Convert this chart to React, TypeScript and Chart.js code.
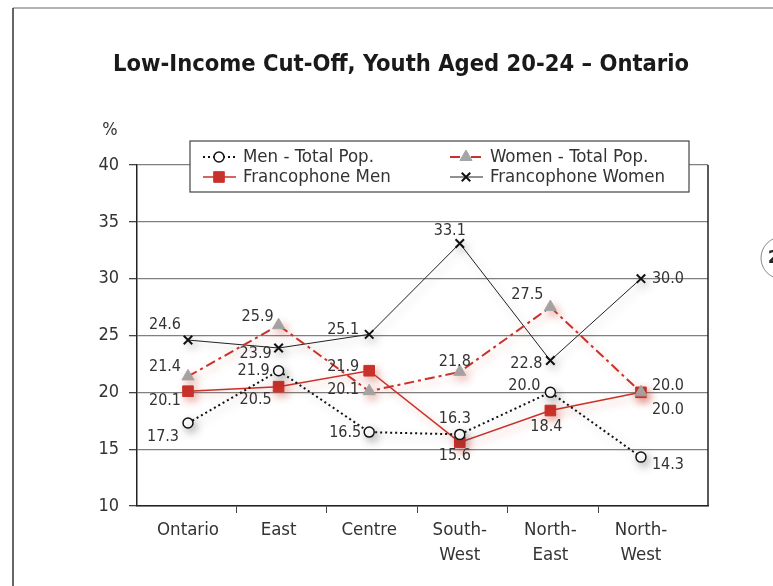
import React, { useEffect, useRef } from "react";
import { Chart, registerables } from "chart.js";
import { drawPoint } from "chart.js/helpers";

Chart.register(...registerables);

// Regions along the category axis (multi-line labels as arrays)
const categories: string[][] = [
  ["Ontario"],
  ["East"],
  ["Centre"],
  ["South-", "West"],
  ["North-", "East"],
  ["North-", "West"],
];

// Percent of youth (20-24) below the low-income cut-off
const menTotal = [17.3, 21.9, 16.5, 16.3, 20.0, 14.3];
const womenTotal = [21.4, 25.9, 20.1, 21.8, 27.5, 20.0];
const francoMen = [20.1, 20.5, 21.9, 15.6, 18.4, 20.0];
const francoWomen = [24.6, 23.9, 25.1, 33.1, 22.8, 30.0];

const seriesNames = [
  "Men - Total Pop.",
  "Women - Total Pop.",
  "Francophone Men",
  "Francophone Women",
];

const yMin = 10;
const yMax = 40;
const yStep = 5;

// Where each value label sits relative to its marker (dx, dy in px)
const labelOffsets: [number, number][][] = [
  [[-25, 14], [-25, 0], [-24, 1], [-5, -16], [-26, -6], [27, 8]],
  [[-23, -10], [-21, -8], [-26, -1], [-5, -10], [-23, -12], [27, 18]],
  [[-23, 10], [-23, 13], [-26, -4], [-5, 13], [-4, 16], [27, -6]],
  [[-23, -15], [-23, 6], [-26, -5], [-10, -13], [-24, 3], [27, 0]],
];

const FONT = "'DejaVu Sans Condensed', 'Liberation Sans Narrow', 'DejaVu Sans', sans-serif";
const RED = "#c9322b";

const toPoints = (vals: number[]) => vals.map((y, x) => ({ x, y }));

const shadowColors = [
  "rgba(60,60,60,0.35)",
  "rgba(200,60,40,0.35)",
  "rgba(200,60,40,0.40)",
  "rgba(60,60,60,0.35)",
];

const shadowPlugin = {
  id: "softShadow",
  beforeDatasetDraw(chart: any, args: any) {
    const ctx = chart.ctx;
    ctx.save();
    ctx.shadowColor = shadowColors[args.index] || "rgba(0,0,0,0.3)";
    ctx.shadowBlur = 9;
    ctx.shadowOffsetX = 3;
    ctx.shadowOffsetY = 4;
  },
  afterDatasetDraw(chart: any) {
    chart.ctx.restore();
  },
};

const decorPlugin = {
  id: "decor",
  beforeDraw(chart: any) {
    const ctx = chart.ctx;
    ctx.save();
    ctx.fillStyle = "#fff";
    ctx.fillRect(0, 0, chart.width, chart.height);
    // page frame
    ctx.strokeStyle = "#9a9a9a";
    ctx.lineWidth = 1.5;
    ctx.beginPath();
    ctx.moveTo(13, 8);
    ctx.lineTo(chart.width, 8);
    ctx.stroke();
    ctx.strokeStyle = "#333";
    ctx.beginPath();
    ctx.moveTo(13, 8);
    ctx.lineTo(13, chart.height);
    ctx.stroke();
    // page marker at the edge
    ctx.strokeStyle = "#888";
    ctx.lineWidth = 1;
    ctx.beginPath();
    ctx.arc(782, 258, 21, 0, Math.PI * 2);
    ctx.stroke();
    ctx.fillStyle = "#222";
    ctx.font = `bold 17px ${FONT}`;
    ctx.textAlign = "left";
    ctx.textBaseline = "middle";
    ctx.fillText("2", 768, 259);
    ctx.restore();
  },
  afterDraw(chart: any) {
    const ctx = chart.ctx;
    const area = chart.chartArea;
    ctx.save();
    // title
    ctx.fillStyle = "#1a1a1a";
    ctx.font = `bold 23.5px ${FONT}`;
    ctx.textAlign = "center";
    ctx.textBaseline = "middle";
    ctx.fillText("Low-Income Cut-Off, Youth Aged 20-24 \u2013 Ontario", 401, 65);
    // unit label
    ctx.font = `18px ${FONT}`;
    ctx.fillStyle = "#333";
    ctx.fillText("%", 110, 130);
    // right edge of plot
    ctx.strokeStyle = "#222";
    ctx.lineWidth = 1.5;
    ctx.beginPath();
    ctx.moveTo(area.right, area.top);
    ctx.lineTo(area.right, area.bottom);
    ctx.stroke();
    ctx.restore();
  },
};

const valueLabelPlugin = {
  id: "valueLabels",
  afterDatasetsDraw(chart: any) {
    const ctx = chart.ctx;
    ctx.save();
    ctx.font = `16px ${FONT}`;
    ctx.fillStyle = "#333";
    ctx.textAlign = "center";
    ctx.textBaseline = "middle";
    chart.data.datasets.forEach((ds: any, di: number) => {
      const meta = chart.getDatasetMeta(di);
      meta.data.forEach((pt: any, i: number) => {
        const v = ds.data[i].y;
        const [dx, dy] = labelOffsets[di][i];
        ctx.fillText(v.toFixed(1), pt.x + dx, pt.y + dy);
      });
    });
    ctx.restore();
  },
};

const legendPlugin = {
  id: "boxLegend",
  afterDraw(chart: any) {
    const ctx = chart.ctx;
    const box = { x: 190, y: 141, w: 499, h: 51 };
    ctx.save();
    ctx.fillStyle = "#fff";
    ctx.fillRect(box.x, box.y, box.w, box.h);
    ctx.strokeStyle = "#444";
    ctx.lineWidth = 1.2;
    ctx.strokeRect(box.x, box.y, box.w, box.h);
    const slots = [
      { x: 203, y: 157 },
      { x: 450, y: 157 },
      { x: 203, y: 177 },
      { x: 450, y: 177 },
    ];
    chart.data.datasets.forEach((ds: any, di: number) => {
      const s = slots[di];
      ctx.save();
      ctx.strokeStyle = ds.borderColor;
      ctx.lineWidth = ds.borderWidth;
      ctx.setLineDash(ds.borderDash || []);
      ctx.beginPath();
      ctx.moveTo(s.x, s.y);
      ctx.lineTo(s.x + 33, s.y);
      ctx.stroke();
      ctx.setLineDash([]);
      ctx.fillStyle = ds.pointBackgroundColor;
      ctx.strokeStyle = ds.pointBorderColor;
      ctx.lineWidth = ds.pointBorderWidth;
      drawPoint(
        ctx,
        { pointStyle: ds.pointStyle, radius: ds.pointRadius, rotation: 0, borderWidth: ds.pointBorderWidth },
        s.x + 16,
        s.y
      );
      ctx.restore();
      ctx.fillStyle = "#333";
      ctx.font = `18.5px ${FONT}`;
      ctx.textAlign = "left";
      ctx.textBaseline = "middle";
      ctx.fillText(ds.label, s.x + 40, s.y);
    });
    ctx.restore();
  },
};

export default function App() {
  const canvasRef = useRef<HTMLCanvasElement | null>(null);

  useEffect(() => {
    const canvas = canvasRef.current;
    if (!canvas) return;
    const chart = new Chart(canvas, {
      type: "line",
      data: {
        datasets: [
          {
            label: seriesNames[0],
            data: toPoints(menTotal),
            borderColor: "#111",
            borderWidth: 2,
            borderDash: [2, 3],
            pointStyle: "circle",
            pointRadius: 5,
            pointBackgroundColor: "#fff",
            pointBorderColor: "#111",
            pointBorderWidth: 1.5,
            tension: 0,
          },
          {
            label: seriesNames[1],
            data: toPoints(womenTotal),
            borderColor: RED,
            borderWidth: 2,
            borderDash: [10, 4, 3, 4],
            pointStyle: "triangle",
            pointRadius: 7,
            pointBackgroundColor: "#a5a5a5",
            pointBorderColor: "#a5a5a5",
            pointBorderWidth: 1,
            tension: 0,
          },
          {
            label: seriesNames[2],
            data: toPoints(francoMen),
            borderColor: RED,
            borderWidth: 1.5,
            pointStyle: "rect",
            pointRadius: 7.5,
            pointBackgroundColor: RED,
            pointBorderColor: RED,
            pointBorderWidth: 1,
            tension: 0,
          },
          {
            label: seriesNames[3],
            data: toPoints(francoWomen),
            borderColor: "#222",
            borderWidth: 1,
            pointStyle: "crossRot",
            pointRadius: 6,
            pointBackgroundColor: "#111",
            pointBorderColor: "#111",
            pointBorderWidth: 2,
            tension: 0,
          },
        ] as any,
      },
      options: {
        animation: false,
        responsive: false,
        devicePixelRatio: 1,
        layout: { padding: { left: 0, top: 165, right: 65, bottom: 0 } },
        plugins: {
          legend: { display: false },
          title: { display: false },
          tooltip: { enabled: false },
        },
        scales: {
          x: {
            type: "linear",
            min: -0.563,
            max: 5.74,
            afterBuildTicks: (scale: any) => {
              const t: { value: number }[] = [];
              categories.forEach((_, i) => {
                t.push({ value: i });
                if (i < categories.length - 1) t.push({ value: i + 0.53 });
              });
              scale.ticks = t;
            },
            afterFit: (scale: any) => {
              scale.height = 80;
            },
            grid: {
              drawOnChartArea: false,
              drawTicks: true,
              tickLength: 7,
              tickColor: (ctx: any) =>
                ctx.tick && Number.isInteger(ctx.tick.value) ? "rgba(0,0,0,0)" : "#444",
            },
            border: { color: "#222", width: 1.5 },
            ticks: {
              autoSkip: false,
              maxRotation: 0,
              minRotation: 0,
              padding: 5,
              color: "#333",
              font: { family: FONT, size: 18.5, lineHeight: 1.35 },
              callback: (value: any) => {
                const v = Number(value);
                const i = Math.round(v);
                if (Math.abs(v - i) < 1e-6 && i >= 0 && i < categories.length) return categories[i];
                return "";
              },
            },
          },
          y: {
            min: yMin,
            max: yMax,
            afterFit: (scale: any) => {
              scale.width = 137;
            },
            ticks: {
              stepSize: yStep,
              padding: 10,
              color: "#333",
              font: { family: FONT, size: 18 },
            },
            grid: {
              color: "#808080",
              lineWidth: 1.3,
              tickLength: 8,
              tickColor: "#444",
            },
            border: { color: "#222", width: 1.5 },
          },
        } as any,
      },
      plugins: [decorPlugin, shadowPlugin, valueLabelPlugin, legendPlugin],
    });
    return () => chart.destroy();
  }, []);

  return (
    <div style={{ position: "absolute", left: 0, top: 0, width: 773, height: 586, background: "#fff" }}>
      <canvas ref={canvasRef} width={773} height={586} style={{ width: 773, height: 586, display: "block" }} />
    </div>
  );
}
